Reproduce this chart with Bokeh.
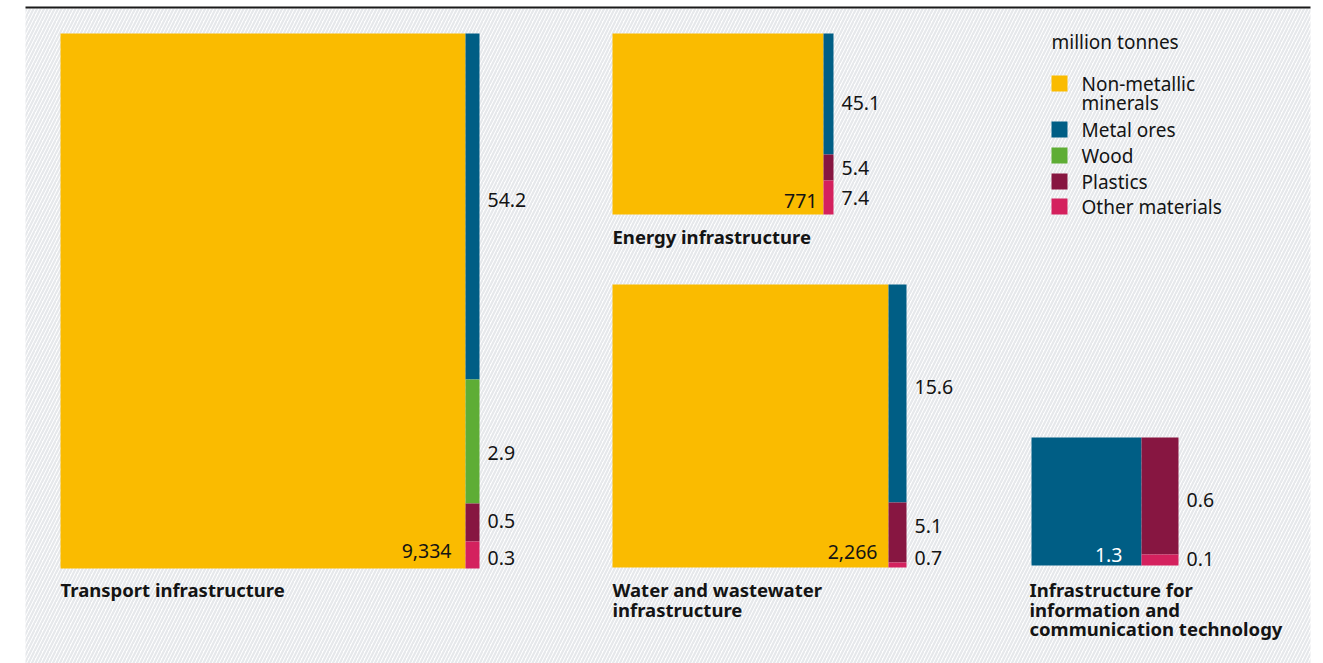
from bokeh.plotting import figure
from bokeh.models import ColumnDataSource, Range1d
from bokeh.core.properties import value
from bokeh.embed import file_html
from bokeh.resources import INLINE

# ---------------- data ----------------
groups = ["Transport infrastructure", "Energy infrastructure",
          "Water and wastewater infrastructure",
          "Infrastructure for information and communication technology"]
group_title_lines = [["Transport infrastructure"],
                     ["Energy infrastructure"],
                     ["Water and wastewater", "infrastructure"],
                     ["Infrastructure for", "information and", "communication technology"]]
materials = ["Non-metallic minerals", "Metal ores", "Wood", "Plastics", "Other materials"]
legend_lines = [["Non-metallic", "minerals"], ["Metal ores"], ["Wood"], ["Plastics"], ["Other materials"]]
non_metallic = [9334, 771, 2266, 0]
metal_ores = [54.2, 45.1, 15.6, 1.3]
wood = [2.9, 0, 0, 0]
plastics = [0.5, 5.4, 5.1, 0.6]
other = [0.3, 7.4, 0.7, 0.1]
unit_label = "million tonnes"

# ---------------- styles / layout ----------------
colors = ["#FABB00", "#005E85", "#5EAD35", "#871641", "#D4215E"]
FONT = "Noto Sans"
TXT = "#141414"
# main box of each group: left, top, right, bottom (page px)
main_box = [(60, 33, 465, 568), (612, 33, 823, 214), (612, 284, 888, 567), (1031, 437, 1141, 565)]
col_right = [479, 833, 906, 1178]
seg_heights = [[346, 124, 38, 27], [121, 26, 34], [218, 60, 5], [117, 11]]
seg_label_y = [[199, 452, 520, 557], [102, 167, 197], [386, 525, 557], [499, 558]]
main_label_pos = [(451, 550), (817, 200), (877, 551), (1122, 554)]
title_pos = [(60, 589), (612, 236), (612, 589), (1029, 589)]
title_step = 19.5
legend_x, legend_title_y = 1051, 41
legend_y = [83, 129, 155, 181, 206]
legend_line_step = 19

series = [non_metallic, metal_ores, wood, plastics, other]


def fmt(v):
    if float(v).is_integer():
        return f"{int(v):,}"
    return f"{v:g}"


W, H = 1323, 663
p = figure(width=W, height=H, x_range=Range1d(0, W), y_range=Range1d(H, 0),
           x_axis_type=None, y_axis_type=None, toolbar_location=None,
           output_backend="svg", min_border=0)
p.outline_line_color = None
p.background_fill_color = "white"
p.border_fill_color = "white"

# hatched background panel
p.quad(left=[25], right=[1310], top=[8], bottom=[H + 5], fill_color="white",
       line_color=None, hatch_pattern="/", hatch_color="#E6E8EB",
       hatch_weight=2.2, hatch_scale=7)
p.segment(x0=[25], x1=[1310], y0=[7], y1=[7], line_color="#1a1a1a", line_width=2)

q = dict(left=[], right=[], top=[], bottom=[], color=[])
lab = dict(x=[], y=[], text=[])
mainlab = dict(x=[], y=[], text=[], color=[])
for g in range(len(groups)):
    vals = [s[g] for s in series]
    main_i = max(range(len(vals)), key=lambda i: vals[i])
    l, t, r, b = main_box[g]
    q["left"].append(l); q["right"].append(r); q["top"].append(t); q["bottom"].append(b)
    q["color"].append(colors[main_i])
    mainlab["x"].append(main_label_pos[g][0]); mainlab["y"].append(main_label_pos[g][1])
    mainlab["text"].append(fmt(vals[main_i]))
    mainlab["color"].append("white" if main_i == 1 else TXT)
    col_items = [i for i in range(len(vals)) if i != main_i and vals[i] > 0]
    y = t
    for k, i in enumerate(col_items):
        h = seg_heights[g][k]
        q["left"].append(r); q["right"].append(col_right[g]); q["top"].append(y); q["bottom"].append(y + h)
        q["color"].append(colors[i])
        lab["x"].append(col_right[g] + 8); lab["y"].append(seg_label_y[g][k]); lab["text"].append(fmt(vals[i]))
        y += h

p.quad(left="left", right="right", top="top", bottom="bottom", fill_color="color",
       line_color=None, source=ColumnDataSource(q))
p.text(x="x", y="y", text="text", source=ColumnDataSource(lab), text_font=value(FONT),
       text_font_size="19.5px", text_color=TXT, text_baseline="middle", text_align="left")
p.text(x="x", y="y", text="text", text_color="color", source=ColumnDataSource(mainlab),
       text_font=value(FONT), text_font_size="19.5px", text_baseline="middle", text_align="right")

# group titles
tt = dict(x=[], y=[], text=[])
for g, lines in enumerate(group_title_lines):
    for j, line in enumerate(lines):
        tt["x"].append(title_pos[g][0]); tt["y"].append(title_pos[g][1] + j * title_step); tt["text"].append(line)
p.text(x="x", y="y", text="text", source=ColumnDataSource(tt), text_font=value(FONT),
       text_font_size="18.5px", text_font_style="bold", text_color=TXT,
       text_baseline="middle", text_align="left")

# legend
p.text(x=[legend_x], y=[legend_title_y], text=[unit_label], text_font=value(FONT),
       text_font_size="19px", text_color=TXT, text_baseline="middle")
p.rect(x=[legend_x + 8] * len(materials), y=legend_y, width=16, height=16,
       fill_color=colors, line_color=None)
lt = dict(x=[], y=[], text=[])
for i, lines in enumerate(legend_lines):
    for j, line in enumerate(lines):
        lt["x"].append(legend_x + 30); lt["y"].append(legend_y[i] + j * legend_line_step); lt["text"].append(line)
p.text(x="x", y="y", text="text", source=ColumnDataSource(lt), text_font=value(FONT),
       text_font_size="19px", text_color=TXT, text_baseline="middle")

open("out.html", "w").write(file_html(p, INLINE))
